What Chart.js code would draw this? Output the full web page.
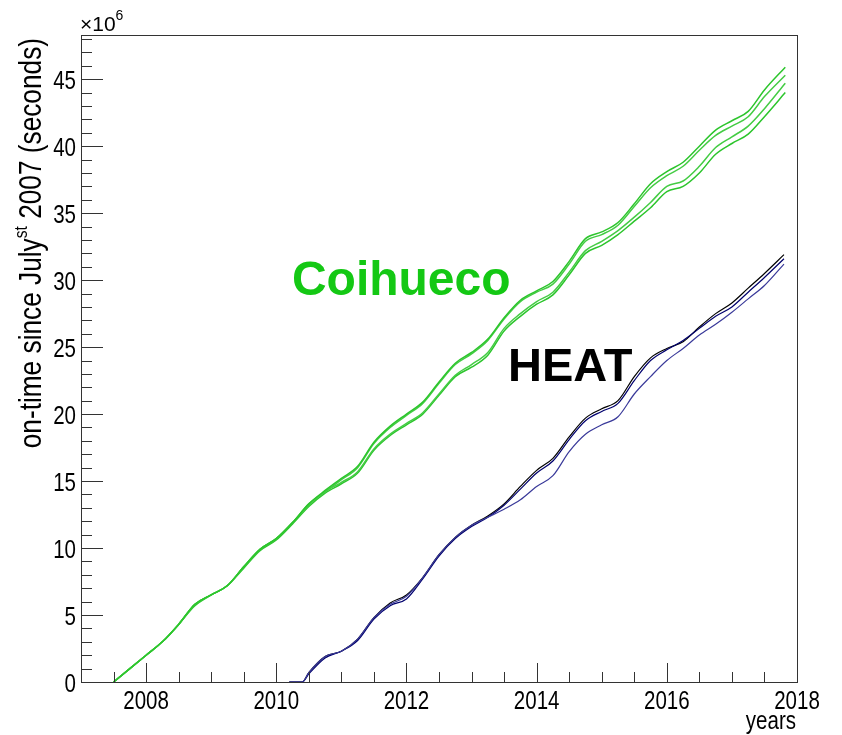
<!DOCTYPE html>
<html>
<head>
<meta charset="utf-8">
<script src="https://cdn.jsdelivr.net/npm/chart.js@4.4.1/dist/chart.umd.min.js"></script>
<style>
  html, body { margin: 0; padding: 0; background: #fff; }
  #wrap { width: 842px; height: 735px; }
</style>
</head>
<body>
<div id="wrap"><canvas id="ontime"></canvas></div>
<script>
// cumulative on-time (in 10^6 s), sampled every quarter year
var coYears = [2007.5, 2007.75, 2008, 2008.25, 2008.5, 2008.75, 2009, 2009.25, 2009.5, 2009.75,
  2010, 2010.25, 2010.5, 2010.75, 2011, 2011.25, 2011.5, 2011.75, 2012, 2012.25,
  2012.5, 2012.75, 2013, 2013.25, 2013.5, 2013.75, 2014, 2014.25, 2014.5, 2014.75,
  2015, 2015.25, 2015.5, 2015.75, 2016, 2016.25, 2016.5, 2016.75, 2017, 2017.25,
  2017.5, 2017.82];
var coihueco1 = [0.0, 1.0, 2.0, 3.0, 4.3, 5.8, 6.5, 7.2, 8.6, 9.9,
  10.7, 11.9, 13.3, 14.3, 15.2, 16.1, 17.9, 19.1, 20.0, 20.9,
  22.4, 23.8, 24.6, 25.6, 27.2, 28.5, 29.2, 29.9, 31.4, 33.1,
  33.6, 34.3, 35.7, 37.2, 38.1, 38.8, 40.0, 41.2, 41.9, 42.6,
  44.2, 45.9];
var coihueco2 = [0.0, 1.0, 2.0, 3.0, 4.3, 5.8, 6.5, 7.2, 8.6, 9.9,
  10.7, 11.9, 13.3, 14.2, 15.1, 16.0, 17.8, 19.0, 19.9, 20.8,
  22.3, 23.7, 24.5, 25.5, 27.1, 28.4, 29.1, 29.7, 31.2, 32.9,
  33.4, 34.1, 35.5, 36.9, 37.8, 38.5, 39.7, 40.8, 41.5, 42.2,
  43.7, 45.3];
var coihueco3 = [0.0, 1.0, 2.0, 3.0, 4.3, 5.8, 6.5, 7.2, 8.6, 9.9,
  10.7, 11.9, 13.2, 14.2, 14.9, 15.7, 17.4, 18.5, 19.3, 20.1,
  21.5, 22.9, 23.7, 24.6, 26.4, 27.5, 28.4, 29.1, 30.6, 32.2,
  32.9, 33.7, 34.7, 35.8, 37.0, 37.4, 38.5, 39.9, 40.7, 41.5,
  42.8, 44.7];
var coihueco4 = [0.0, 1.0, 2.0, 3.0, 4.3, 5.7, 6.5, 7.2, 8.5, 9.8,
  10.6, 11.8, 13.1, 14.1, 14.8, 15.6, 17.3, 18.4, 19.2, 20.0,
  21.4, 22.8, 23.5, 24.4, 26.2, 27.3, 28.2, 28.9, 30.4, 32.0,
  32.6, 33.4, 34.4, 35.4, 36.6, 37.0, 38.0, 39.4, 40.2, 40.9,
  42.2, 44.0];

var heatYears = [2010.2, 2010.4, 2010.5, 2010.75, 2011, 2011.25, 2011.5, 2011.75, 2012, 2012.25,
  2012.5, 2012.75, 2013, 2013.25, 2013.5, 2013.75, 2014, 2014.25, 2014.5, 2014.75,
  2015, 2015.25, 2015.5, 2015.75, 2016, 2016.25, 2016.5, 2016.75, 2017, 2017.25,
  2017.5, 2017.8];
var heat1 = [0.0, 0.0, 0.7, 1.9, 2.3, 3.2, 4.8, 5.9, 6.5, 7.8,
  9.5, 10.8, 11.7, 12.4, 13.3, 14.6, 15.8, 16.7, 18.3, 19.7,
  20.4, 21.0, 22.8, 24.2, 24.9, 25.4, 26.5, 27.5, 28.3, 29.4,
  30.5, 31.9];
var heat2 = [0.0, 0.0, 0.6, 1.8, 2.3, 3.1, 4.7, 5.7, 6.2, 7.7,
  9.4, 10.7, 11.6, 12.3, 13.2, 14.4, 15.6, 16.5, 18.1, 19.5,
  20.2, 20.8, 22.5, 24.0, 24.8, 25.5, 26.4, 27.3, 28.0, 29.1,
  30.2, 31.6];
var heat3 = [0.0, 0.0, 0.7, 1.9, 2.3, 3.2, 4.8, 5.8, 6.4, 7.8,
  9.5, 10.8, 11.7, 12.3, 12.9, 13.6, 14.6, 15.4, 17.2, 18.5,
  19.2, 19.8, 21.5, 22.8, 24.0, 24.9, 25.9, 26.7, 27.6, 28.6,
  29.6, 31.2];

var xTicks = [2008, 2010, 2012, 2014, 2016, 2018];
var yTicks = [0, 5, 10, 15, 20, 25, 30, 35, 40, 45];

var sans = "'Liberation Sans', Arial, sans-serif";
var squeeze = 0.82; // horizontal squeeze to get a narrow Helvetica look

function toPoints(xs, ys) {
  return xs.map(function (x, i) { return { x: x, y: ys[i] }; });
}

function series(xs, ys, color, width) {
  return {
    data: toPoints(xs, ys),
    borderColor: color,
    borderWidth: width,
    pointRadius: 0,
    cubicInterpolationMode: 'monotone',
    fill: false
  };
}

function narrowText(ctx, text, x, y, align, size) {
  ctx.save();
  ctx.translate(x, y);
  ctx.scale(squeeze, 1);
  ctx.font = size + 'px ' + sans;
  ctx.textAlign = align;
  ctx.fillText(text, 0, 0);
  ctx.restore();
}

// ROOT-like frame: box, inward ticks, labels, axis titles and the detector names
var rootFrame = {
  id: 'rootFrame',
  afterDraw: function (chart) {
    var ctx = chart.ctx, a = chart.chartArea;
    var xs = chart.scales.x, ys = chart.scales.y;

    ctx.save();
    ctx.strokeStyle = '#333';
    ctx.lineWidth = 1;
    ctx.strokeRect(Math.round(a.left) + 0.5, Math.round(a.top) + 0.5,
      Math.round(a.right - a.left), Math.round(a.bottom - a.top));

    ctx.beginPath();
    for (var t = 2007; t <= 2018; t += 0.5) {
      var px = Math.round(xs.getPixelForValue(t)) + 0.5;
      var len = (t % 2 === 0) ? 19 : 10;
      ctx.moveTo(px, a.bottom);
      ctx.lineTo(px, a.bottom - len);
    }
    for (var v = 0; v <= ys.max; v += 1) {
      var py = Math.round(ys.getPixelForValue(v)) + 0.5;
      var l = (v % 5 === 0) ? 22 : 11;
      ctx.moveTo(a.left, py);
      ctx.lineTo(a.left + l, py);
    }
    ctx.stroke();

    // tick labels
    ctx.fillStyle = '#000';
    ctx.textBaseline = 'alphabetic';
    xs.ticks.forEach(function (tk) {
      narrowText(ctx, String(tk.value), xs.getPixelForValue(tk.value), 709, 'center', 25);
    });
    ys.ticks.forEach(function (tk) {
      narrowText(ctx, String(tk.value), a.left - 5, ys.getPixelForValue(tk.value) + 10, 'right', 25);
    });

    // x axis title
    narrowText(ctx, 'years', a.right - 1, 729, 'right', 25);

    // exponent above the y axis
    ctx.font = '21px ' + sans;
    ctx.textAlign = 'left';
    ctx.fillText('\u00d710', a.left - 1, 31);
    var w = ctx.measureText('\u00d710').width;
    ctx.font = '14px ' + sans;
    ctx.fillText('6', a.left - 1 + w, 20);

    // y axis title, right-aligned to the top of the frame
    var fs = 32, fsup = 19;
    ctx.translate(41, a.top);
    ctx.rotate(-Math.PI / 2);
    ctx.scale(squeeze, 1);
    var main1 = 'on-time since July', main2 = ' 2007 (seconds)';
    ctx.font = fs + 'px ' + sans;
    var w2 = ctx.measureText(main2).width;
    ctx.font = fsup + 'px ' + sans;
    var ws = ctx.measureText('st').width;
    var u = -3 / squeeze;
    ctx.textAlign = 'right';
    ctx.font = fs + 'px ' + sans;
    ctx.fillText(main2, u, 0);
    ctx.font = fsup + 'px ' + sans;
    ctx.fillText('st', u - w2, -fs * 0.45);
    ctx.font = fs + 'px ' + sans;
    ctx.fillText(main1, u - w2 - ws, 0);
    ctx.restore();

    // detector labels placed in data coordinates
    ctx.save();
    ctx.textAlign = 'left';
    ctx.textBaseline = 'alphabetic';
    ctx.font = 'bold 48px ' + sans;
    ctx.fillStyle = '#14c814';
    ctx.fillText('Coihueco', xs.getPixelForValue(2010.24), ys.getPixelForValue(28.9));
    ctx.font = 'bold 47px ' + sans;
    ctx.fillStyle = '#000';
    ctx.fillText('HEAT', xs.getPixelForValue(2013.56), ys.getPixelForValue(22.5));
    ctx.restore();
  }
};

var ctx = document.getElementById('ontime');
var chart = new Chart(ctx, {
  type: 'line',
  data: {
    datasets: [
      series(coYears, coihueco1, '#2cc52c', 1.5),
      series(coYears, coihueco2, '#44cc44', 1.5),
      series(coYears, coihueco3, '#44cc44', 1.5),
      series(coYears, coihueco4, '#2cc52c', 1.5),
      series(heatYears, heat3, '#3a3a9a', 1.2),
      series(heatYears, heat2, '#00006e', 1.2),
      series(heatYears, heat1, '#000000', 1.2)
    ]
  },
  options: {
    responsive: true,
    maintainAspectRatio: false,
    animation: false,
    layout: { padding: { left: 0, right: 45, top: 35, bottom: 0 } },
    plugins: {
      legend: { display: false },
      tooltip: { enabled: false }
    },
    scales: {
      x: {
        type: 'linear',
        min: 2007,
        max: 2018,
        afterBuildTicks: function (s) { s.ticks = xTicks.map(function (v) { return { value: v }; }); },
        afterFit: function (s) { s.height = 53; },
        grid: { display: false, drawTicks: false },
        border: { display: false },
        ticks: { display: false }
      },
      y: {
        type: 'linear',
        min: 0,
        max: 48.3,
        afterBuildTicks: function (s) { s.ticks = yTicks.map(function (v) { return { value: v }; }); },
        afterFit: function (s) { s.width = 81; },
        grid: { display: false, drawTicks: false },
        border: { display: false },
        ticks: { display: false }
      }
    }
  },
  plugins: [rootFrame]
});
</script>
</body>
</html>
